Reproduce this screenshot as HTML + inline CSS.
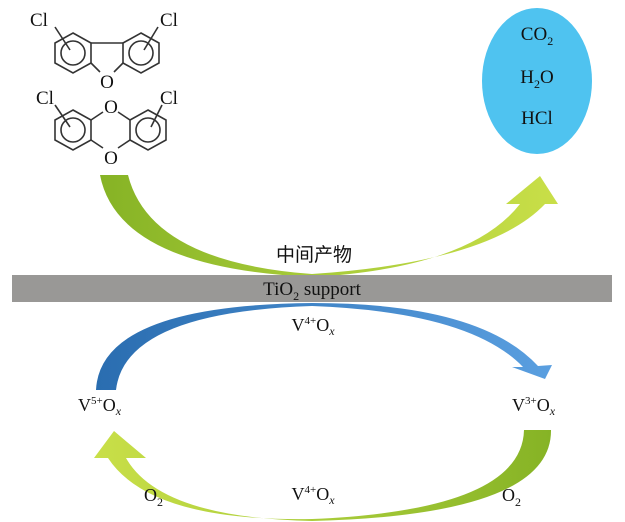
<!DOCTYPE html>
<html><head><meta charset="utf-8"><style>
html,body{margin:0;padding:0;background:#fff;}
svg{display:block;}
text{font-family:"Liberation Serif","Noto Serif CJK SC",serif;fill:#111;}
</style></head><body>
<svg width="625" height="522" viewBox="0 0 625 522" xmlns="http://www.w3.org/2000/svg">
<defs>
<linearGradient id="g1" x1="0" x2="1" y1="0" y2="0"><stop offset="0" stop-color="#86b325"/><stop offset="0.5" stop-color="#a9cc3a"/><stop offset="1" stop-color="#c9df48"/></linearGradient>
<linearGradient id="g2" x1="0" x2="1" y1="0" y2="0"><stop offset="0" stop-color="#2a6db0"/><stop offset="1" stop-color="#5a9fe0"/></linearGradient>
<linearGradient id="g3" x1="1" x2="0" y1="0" y2="0"><stop offset="0" stop-color="#86b325"/><stop offset="0.5" stop-color="#a9cc3a"/><stop offset="1" stop-color="#c9df48"/></linearGradient>
</defs>
<ellipse cx="537" cy="81" rx="55" ry="73" fill="#4fc3f0"/>
<text x="537" y="40" font-size="19" text-anchor="middle">CO<tspan font-size="12" dy="5">2</tspan></text>
<text x="537" y="83" font-size="19" text-anchor="middle">H<tspan font-size="12" dy="5">2</tspan><tspan dy="-5">O</tspan></text>
<text x="537" y="124" font-size="19" text-anchor="middle">HCl</text>
<path d="M100,175 Q118,268 312,277 Q470,268 520,204 L506,204 L540,176 L558,204 L545,204 Q490,262 312,274 Q150,262 128,175 Z" fill="url(#g1)"/>
<path d="M96,390 Q100,305 312,303 Q480,303 538,366 L552,365 L545,379 L512,367 L523,367 Q470,312 312,306 Q125,312 116,390 Z" fill="url(#g2)"/>
<path d="M551,430 Q552,515 312,521 Q160,518 126,458 L146,458 L114,431 L94,458 L108,458 Q150,522 312,519 Q522,510 524,430 Z" fill="url(#g3)"/>
<rect x="12" y="275" width="600" height="27" fill="#999896"/>
<text x="312" y="295" font-size="19" text-anchor="middle">TiO<tspan font-size="12" dy="5">2</tspan><tspan dy="-5"> support</tspan></text>
<text x="314" y="261" font-size="19" text-anchor="middle" style="font-family:'Noto Sans CJK SC',sans-serif">中间产物</text>
<text x="313" y="331" font-size="18" text-anchor="middle">V<tspan font-size="11" dy="-7">4+</tspan><tspan dy="7">O</tspan><tspan font-size="12" font-style="italic" dy="4">x</tspan></text>
<text x="78" y="411" font-size="18">V<tspan font-size="11" dy="-7">5+</tspan><tspan dy="7">O</tspan><tspan font-size="12" font-style="italic" dy="4">x</tspan></text>
<text x="512" y="411" font-size="18">V<tspan font-size="11" dy="-7">3+</tspan><tspan dy="7">O</tspan><tspan font-size="12" font-style="italic" dy="4">x</tspan></text>
<text x="313" y="500" font-size="18" text-anchor="middle">V<tspan font-size="11" dy="-7">4+</tspan><tspan dy="7">O</tspan><tspan font-size="12" font-style="italic" dy="4">x</tspan></text>
<text x="144" y="501" font-size="18">O<tspan font-size="12" dy="5">2</tspan></text>
<text x="502" y="501" font-size="18">O<tspan font-size="12" dy="5">2</tspan></text>
<g fill="none" stroke="#333" stroke-width="1.6">
<polygon points="73,33 91,43 91,63 73,73 55,63 55,43"/>
<circle cx="73" cy="53" r="12"/>
<polygon points="141,33 159,43 159,63 141,73 123,63 123,43"/>
<circle cx="141" cy="53" r="12"/>
<line x1="91" y1="43" x2="123" y2="43"/>
<line x1="91" y1="63" x2="100" y2="72"/>
<line x1="123" y1="63" x2="114" y2="72"/>
<line x1="55" y1="27" x2="70" y2="50"/>
<line x1="158" y1="27" x2="144" y2="50"/>
<polygon points="73,110 91,120 91,140 73,150 55,140 55,120"/>
<circle cx="73" cy="130" r="12"/>
<polygon points="148,110 166,120 166,140 148,150 130,140 130,120"/>
<circle cx="148" cy="130" r="12"/>
<line x1="91" y1="120" x2="103" y2="112"/>
<line x1="130" y1="120" x2="118" y2="112"/>
<line x1="91" y1="140" x2="103" y2="148"/>
<line x1="130" y1="140" x2="118" y2="148"/>
<line x1="55" y1="105" x2="70" y2="127"/>
<line x1="162" y1="105" x2="151" y2="127"/>
</g>
<text x="107" y="88" font-size="19" text-anchor="middle">O</text>
<text x="111" y="113" font-size="19" text-anchor="middle">O</text>
<text x="111" y="164" font-size="19" text-anchor="middle">O</text>
<text x="30" y="26" font-size="19">Cl</text>
<text x="160" y="26" font-size="19">Cl</text>
<text x="36" y="104" font-size="19">Cl</text>
<text x="160" y="104" font-size="19">Cl</text>
</svg>
</body></html>
